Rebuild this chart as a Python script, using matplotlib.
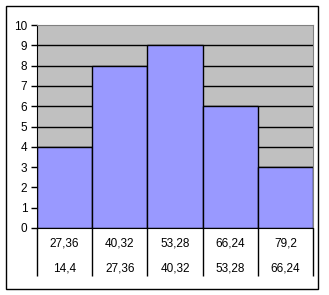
import matplotlib
matplotlib.use("Agg")
import matplotlib.pyplot as plt
from matplotlib.patches import Rectangle
from matplotlib.transforms import blended_transform_factory, offset_copy

# histogram data
counts = [4, 8, 9, 6, 3]
upper_bounds = ["27,36", "40,32", "53,28", "66,24", "79,2"]
lower_bounds = ["14,4", "27,36", "40,32", "53,28", "66,24"]

plt.rcParams['font.family'] = ['Liberation Sans', 'DejaVu Sans']

W, H = 329, 295
fig = plt.figure(figsize=(W / 100, H / 100), dpi=100)

# outer chart border
fig.patches.append(Rectangle((6 / W, 1 - 289 / H), 312 / W, 283 / H,
                             transform=fig.transFigure, fill=False,
                             edgecolor='black', linewidth=1))

ax = fig.add_axes([37 / W, 1 - 228 / H, 276 / W, 203 / H])
ax.set_facecolor('#C0C0C0')

x = range(len(counts))
ax.set_ylim(0, 10)
ax.set_xlim(-0.5, len(counts) - 0.5)
for y in range(1, 10):
    ax.axhline(y, color='black', linewidth=1, zorder=1)
ax.bar(x, counts, width=1.0, color='#9999FF', edgecolor='black',
       linewidth=1, zorder=2)

ax.set_yticks(range(0, 11))
ax.tick_params(axis='y', length=4, width=1, labelsize=8.5, pad=3)

# category separators extend down through the labels
ax.set_xticks([i - 0.5 for i in range(len(counts) + 1)])
ax.set_xticklabels([])
ax.tick_params(axis='x', length=34.5, width=1, direction='out')

trans = blended_transform_factory(ax.transData, ax.transAxes)
for i in x:
    ax.text(i, 0, upper_bounds[i], fontsize=8.5, ha='center', va='center',
            transform=offset_copy(trans, fig=fig, x=0, y=-11, units='points'))
    ax.text(i, 0, lower_bounds[i], fontsize=8.5, ha='center', va='center',
            transform=offset_copy(trans, fig=fig, x=0, y=-29, units='points'))

for side in ['top', 'right']:
    ax.spines[side].set_color('#808080')
for side in ['left', 'bottom']:
    ax.spines[side].set_color('black')

fig.savefig('out.png', dpi=100)
